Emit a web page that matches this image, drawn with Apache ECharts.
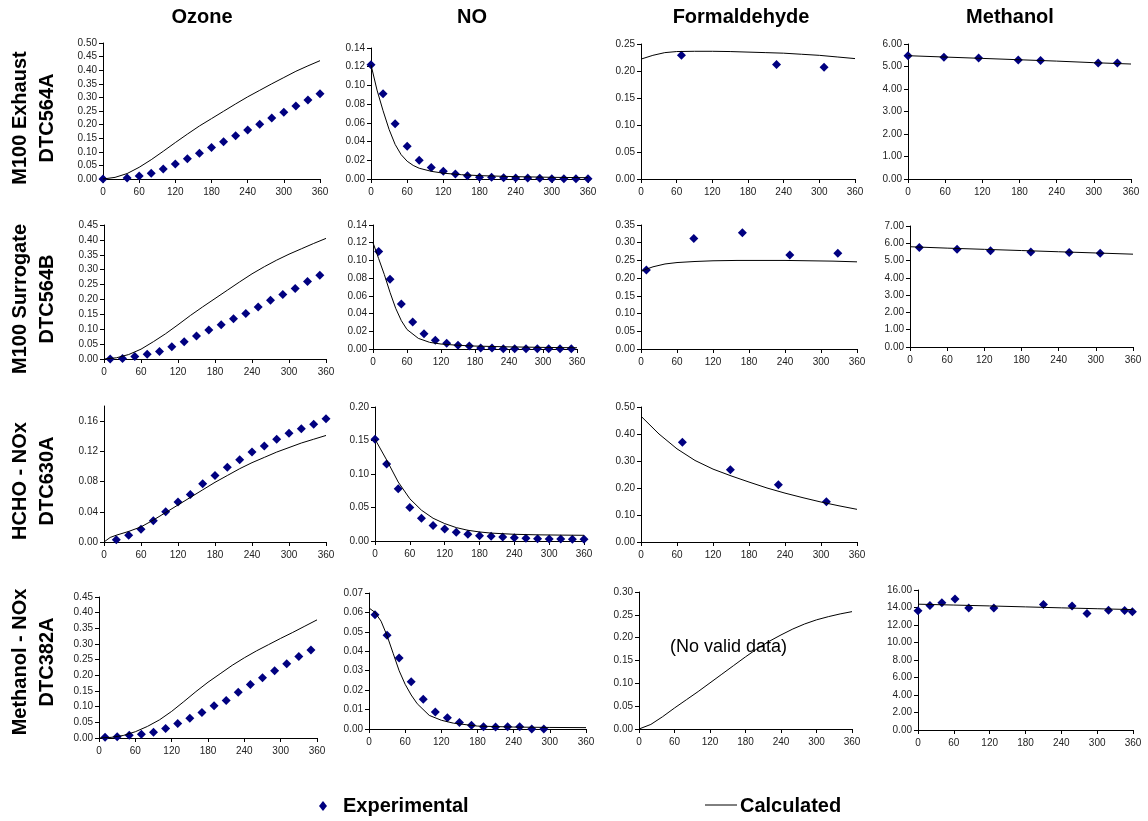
<!DOCTYPE html>
<html><head><meta charset="utf-8">
<script src="https://cdn.jsdelivr.net/npm/echarts@6/dist/echarts.min.js"></script>
<style>html,body{margin:0;padding:0;background:#fff}#c{width:1148px;height:821px}</style>
</head><body><div id="c"></div>
<script>
// ---------- labels ----------
const columnTitles = ['Ozone', 'NO', 'Formaldehyde', 'Methanol'];
const rowTitles = [
  ['M100 Exhaust', 'DTC564A'],
  ['M100 Surrogate', 'DTC564B'],
  ['HCHO - NOx', 'DTC630A'],
  ['Methanol - NOx', 'DTC382A']
];
const xTicks = [0, 60, 120, 180, 240, 300, 360];
const legendLabels = ['Experimental', 'Calculated'];
const noDataNote = '(No valid data)';

// ---------- Row 1: M100 Exhaust DTC564A ----------
const r1OzoneExpT = [0,40,60,80,100,120,140,160,180,200,220,240,260,280,300,320,340,360];
const r1OzoneExpV = [0.000,0.004,0.011,0.021,0.037,0.055,0.074,0.095,0.116,0.137,0.159,0.180,0.201,0.224,0.245,0.268,0.290,0.313];
const r1OzoneCalT = [0,20,40,60,80,100,120,140,160,180,200,220,240,260,280,300,320,340,360];
const r1OzoneCalV = [0,0.006,0.020,0.043,0.071,0.102,0.134,0.165,0.195,0.222,0.249,0.276,0.302,0.326,0.350,0.373,0.396,0.416,0.435];

const r1NoExpT = [0,20,40,60,80,100,120,140,160,180,200,220,240,260,280,300,320,340,360];
const r1NoExpV = [0.122,0.091,0.059,0.035,0.020,0.0124,0.0082,0.0053,0.0035,0.002,0.002,0.0014,0.001,0.001,0.0007,0.0004,0.0004,0.0004,0.0004];
const r1NoCalT = [0,10,20,30,40,50,60,70,80,100,120,150,180,240,300,360];
const r1NoCalV = [0.122,0.095,0.073,0.053,0.037,0.026,0.019,0.0145,0.0115,0.0082,0.0062,0.0046,0.0036,0.0025,0.0018,0.0014];

const r1HchoExpT = [68,228,308];
const r1HchoExpV = [0.229,0.212,0.207];
const r1HchoCalT = [0,20,40,60,90,120,150,180,210,240,270,300,330,360];
const r1HchoCalV = [0.222,0.229,0.234,0.236,0.2365,0.2365,0.236,0.235,0.234,0.233,0.231,0.229,0.226,0.223];

const r1MeohExpT = [0,58,114,178,214,307,338];
const r1MeohExpV = [5.48,5.41,5.38,5.29,5.27,5.16,5.16];
const r1MeohCalT = [0,60,120,180,240,300,360];
const r1MeohCalV = [5.48,5.42,5.36,5.30,5.24,5.17,5.11];

// ---------- Row 2: M100 Surrogate DTC564B ----------
const r2OzoneExpT = [10,30,50,70,90,110,130,150,170,190,210,230,250,270,290,310,330,350];
const r2OzoneExpV = [0.000,0.002,0.008,0.016,0.025,0.041,0.058,0.077,0.097,0.115,0.135,0.153,0.175,0.197,0.217,0.237,0.260,0.281];
const r2OzoneCalT = [0,20,40,60,80,100,120,140,160,180,200,220,240,260,280,300,320,340,360];
const r2OzoneCalV = [0,0.004,0.015,0.033,0.058,0.085,0.115,0.146,0.175,0.203,0.231,0.259,0.286,0.310,0.332,0.352,0.370,0.388,0.405];

const r2NoExpT = [10,30,50,70,90,110,130,150,170,190,210,230,250,270,290,310,330,350];
const r2NoExpV = [0.110,0.0788,0.0507,0.0304,0.0173,0.0098,0.0064,0.0041,0.0034,0.0011,0.0011,0.0004,0.0004,0.0004,0.0004,0.0004,0.0004,0.0004];
const r2NoCalT = [0,10,20,30,40,50,60,80,100,120,150,180,240,300,360];
const r2NoCalV = [0.120,0.102,0.084,0.064,0.046,0.032,0.022,0.012,0.0075,0.0056,0.0042,0.0033,0.0024,0.0018,0.0014];

const r2HchoExpT = [9,88,169,248,328];
const r2HchoExpV = [0.223,0.312,0.328,0.265,0.270];
const r2HchoCalT = [0,10,20,40,60,90,120,160,200,240,280,320,360];
const r2HchoCalV = [0.219,0.226,0.232,0.240,0.244,0.247,0.249,0.250,0.250,0.250,0.249,0.248,0.246];

const r2MeohExpT = [15,76,130,195,257,307];
const r2MeohExpV = [5.76,5.66,5.57,5.50,5.47,5.42];
const r2MeohCalT = [0,60,120,180,240,300,360];
const r2MeohCalV = [5.80,5.72,5.65,5.58,5.51,5.44,5.37];

// ---------- Row 3: HCHO - NOx DTC630A ----------
const r3OzoneExpT = [20,40,60,80,100,120,140,160,180,200,220,240,260,280,300,320,340,360];
const r3OzoneExpV = [0.003,0.009,0.017,0.028,0.040,0.053,0.063,0.077,0.088,0.099,0.109,0.119,0.127,0.136,0.144,0.150,0.156,0.163];
const r3OzoneCalT = [0,10,20,40,60,80,100,120,140,160,180,200,220,240,260,280,300,320,340,360];
const r3OzoneCalV = [0,0.006,0.009,0.014,0.020,0.029,0.039,0.049,0.059,0.069,0.079,0.088,0.097,0.105,0.112,0.119,0.125,0.131,0.136,0.141];

const r3NoExpT = [0,20,40,60,80,100,120,140,160,180,200,220,240,260,280,300,320,340,360];
const r3NoExpV = [0.152,0.115,0.078,0.050,0.034,0.023,0.018,0.013,0.010,0.008,0.007,0.006,0.005,0.004,0.0035,0.003,0.003,0.0025,0.0025];
const r3NoCalT = [0,20,40,60,80,100,120,140,160,180,200,240,280,320,360];
const r3NoCalV = [0.152,0.121,0.088,0.063,0.046,0.034,0.026,0.020,0.016,0.0135,0.0118,0.0100,0.0092,0.0088,0.0085];

const r3HchoExpT = [69,149,229,309];
const r3HchoExpV = [0.369,0.268,0.212,0.149];
const r3HchoCalT = [0,30,60,90,120,150,180,210,240,270,300,330,360];
const r3HchoCalV = [0.466,0.400,0.345,0.302,0.270,0.245,0.222,0.200,0.181,0.164,0.148,0.134,0.121];

// ---------- Row 4: Methanol - NOx DTC382A ----------
const r4OzoneExpT = [10,30,50,70,90,110,130,150,170,190,210,230,250,270,290,310,330,350];
const r4OzoneExpV = [0.002,0.004,0.0085,0.012,0.018,0.030,0.046,0.063,0.081,0.103,0.120,0.146,0.171,0.192,0.215,0.237,0.260,0.281];
const r4OzoneCalT = [0,20,40,60,80,100,120,140,160,180,200,220,240,260,280,300,320,340,360];
const r4OzoneCalV = [0,0.002,0.008,0.020,0.037,0.058,0.085,0.116,0.148,0.178,0.205,0.232,0.256,0.278,0.298,0.318,0.337,0.357,0.377];

const r4NoExpT = [10,30,50,70,90,110,130,150,170,190,210,230,250,270,290];
const r4NoExpV = [0.0588,0.0483,0.0366,0.0243,0.0153,0.0088,0.0058,0.0033,0.0019,0.0012,0.0010,0.0012,0.0012,0.0000,0.0000];
const r4NoCalT = [0,10,20,30,40,50,60,70,80,100,120,140,180,240,300,360];
const r4NoCalV = [0.0623,0.0600,0.0555,0.0480,0.0390,0.0300,0.0230,0.0175,0.0130,0.0070,0.0045,0.0030,0.0015,0.0010,0.0008,0.0007];

const r4HchoExpT = [];
const r4HchoExpV = [];
const r4HchoCalT = [0,20,40,60,80,100,120,140,160,180,200,220,240,260,280,300,320,340,360];
const r4HchoCalV = [0,0.010,0.027,0.046,0.064,0.082,0.101,0.120,0.139,0.158,0.176,0.192,0.206,0.219,0.230,0.239,0.246,0.252,0.257];

const r4MeohExpT = [0,20,40,62,85,127,210,258,283,319,346,359];
const r4MeohExpV = [13.62,14.24,14.54,14.97,13.93,13.93,14.35,14.16,13.32,13.70,13.66,13.51];
const r4MeohCalT = [0,60,120,180,240,300,360];
const r4MeohCalV = [14.38,14.28,14.18,14.07,13.96,13.86,13.76];

// ---------- y-axis scales per panel ----------
const yMax      = [[0.50,0.14,0.25,6],[0.45,0.14,0.35,7],[0.18,0.20,0.50,null],[0.45,0.07,0.30,16]];
const yInterval = [[0.05,0.02,0.05,1],[0.05,0.02,0.05,1],[0.04,0.05,0.10,null],[0.05,0.01,0.05,2]];

// ---------- layout (pixel boxes of plot areas) ----------
const boxes = [
  [[103,320,43,179],[371,588,48,179],[641,855,44,179],[908,1131,44,179]],
  [[104,326,225,359],[373,577,225,349],[641,857,225,349],[910,1133,226,347]],
  [[104,326,406,542],[375,584,407,541],[641,857,407,542],null],
  [[99,317,597,738],[369,586,593,729],[639,852,592,729],[918,1133,590,730]]
];

const panelData = [
  [[r1OzoneExpT,r1OzoneExpV,r1OzoneCalT,r1OzoneCalV],[r1NoExpT,r1NoExpV,r1NoCalT,r1NoCalV],[r1HchoExpT,r1HchoExpV,r1HchoCalT,r1HchoCalV],[r1MeohExpT,r1MeohExpV,r1MeohCalT,r1MeohCalV]],
  [[r2OzoneExpT,r2OzoneExpV,r2OzoneCalT,r2OzoneCalV],[r2NoExpT,r2NoExpV,r2NoCalT,r2NoCalV],[r2HchoExpT,r2HchoExpV,r2HchoCalT,r2HchoCalV],[r2MeohExpT,r2MeohExpV,r2MeohCalT,r2MeohCalV]],
  [[r3OzoneExpT,r3OzoneExpV,r3OzoneCalT,r3OzoneCalV],[r3NoExpT,r3NoExpV,r3NoCalT,r3NoCalV],[r3HchoExpT,r3HchoExpV,r3HchoCalT,r3HchoCalV],null],
  [[r4OzoneExpT,r4OzoneExpV,r4OzoneCalT,r4OzoneCalV],[r4NoExpT,r4NoExpV,r4NoCalT,r4NoCalV],[r4HchoExpT,r4HchoExpV,r4HchoCalT,r4HchoCalV],[r4MeohExpT,r4MeohExpV,r4MeohCalT,r4MeohCalV]]
];

const FONT = '"Liberation Sans", Arial, sans-serif';
const zip = (a, b) => a.map((v, i) => [v, b[i]]);

const grid = [], xAxis = [], yAxis = [], series = [];
let gi = 0;
for (let r = 0; r < 4; r++) {
  for (let c = 0; c < 4; c++) {
    const box = boxes[r][c];
    const d = panelData[r][c];
    if (!box || !d) continue;
    const [L, R, T, B] = box;
    grid.push({left: L, top: T, width: R - L, height: B - T, outerBoundsMode: 'none', containLabel: false});
    const max = yMax[r][c], iv = yInterval[r][c];
    const yTicks = [];
    for (let k = 0; k * iv <= max + 1e-9; k++) yTicks.push(+(k * iv).toFixed(6));
    xAxis.push({
      gridIndex: gi, type: 'value', min: 0, max: 360, interval: 60,
      axisLine: {show: true, onZero: false, lineStyle: {color: '#000', width: 1}},
      axisTick: {show: true, length: 4, lineStyle: {color: '#000'}},
      axisLabel: {fontSize: 10, color: '#222', margin: 8, fontFamily: FONT, hideOverlap: false},
      splitLine: {show: false}
    });
    yAxis.push({
      gridIndex: gi, type: 'value', min: 0, max: max, interval: iv,
      axisLine: {show: true, onZero: false, lineStyle: {color: '#000', width: 1}},
      axisTick: {show: true, length: 4, lineStyle: {color: '#000'}, customValues: yTicks},
      axisLabel: {fontSize: 10, color: '#222', margin: 6, fontFamily: FONT, customValues: yTicks,
        formatter: v => v.toFixed(2), hideOverlap: false},
      splitLine: {show: false}
    });
    series.push({
      name: legendLabels[0], type: 'scatter', xAxisIndex: gi, yAxisIndex: gi,
      data: zip(d[0], d[1]), symbol: 'diamond', symbolSize: 9,
      itemStyle: {color: '#000080', opacity: 1}, z: 2, silent: true
    });
    series.push({
      name: legendLabels[1], type: 'line', xAxisIndex: gi, yAxisIndex: gi,
      data: zip(d[2], d[3]), showSymbol: false, symbol: 'none', smooth: false,
      lineStyle: {color: '#000', width: 1}, itemStyle: {color: '#000'}, z: 3, silent: true, clip: false
    });
    gi++;
  }
}

const graphic = [];
const colCenters = [202, 472, 741, 1010];
columnTitles.forEach((t, i) => graphic.push({
  type: 'text', x: colCenters[i], y: 17,
  style: {text: t, font: 'bold 20px ' + FONT, fill: '#000', align: 'center', verticalAlign: 'middle'}
}));
const rowCenters = [118, 299, 481, 662];
rowTitles.forEach((pair, i) => {
  graphic.push({type: 'text', x: 20, y: rowCenters[i], rotation: Math.PI / 2,
    style: {text: pair[0], font: 'bold 20px ' + FONT, fill: '#000', align: 'center', verticalAlign: 'middle'}});
  graphic.push({type: 'text', x: 47, y: rowCenters[i], rotation: Math.PI / 2,
    style: {text: pair[1], font: 'bold 20px ' + FONT, fill: '#000', align: 'center', verticalAlign: 'middle'}});
});
// legend
graphic.push({type: 'polygon', shape: {points: [[323, 801], [327, 806], [323, 811], [319, 806]]}, style: {fill: '#000080'}});
graphic.push({type: 'text', x: 343, y: 806, style: {text: legendLabels[0], font: 'bold 20px ' + FONT, fill: '#000', align: 'left', verticalAlign: 'middle'}});
graphic.push({type: 'line', shape: {x1: 705, y1: 805, x2: 737, y2: 805}, style: {stroke: '#000', lineWidth: 1}});
graphic.push({type: 'text', x: 740, y: 806, style: {text: legendLabels[1], font: 'bold 20px ' + FONT, fill: '#000', align: 'left', verticalAlign: 'middle'}});
// note in empty formaldehyde panel
graphic.push({type: 'text', x: 670, y: 647, style: {text: noDataNote, font: '18px ' + FONT, fill: '#000', align: 'left', verticalAlign: 'middle'}});

const chart = echarts.init(document.getElementById('c'), null, {renderer: 'canvas'});
chart.setOption({
  animation: false,
  backgroundColor: '#fff',
  grid, xAxis, yAxis, series, graphic
});
</script>
</body></html>
